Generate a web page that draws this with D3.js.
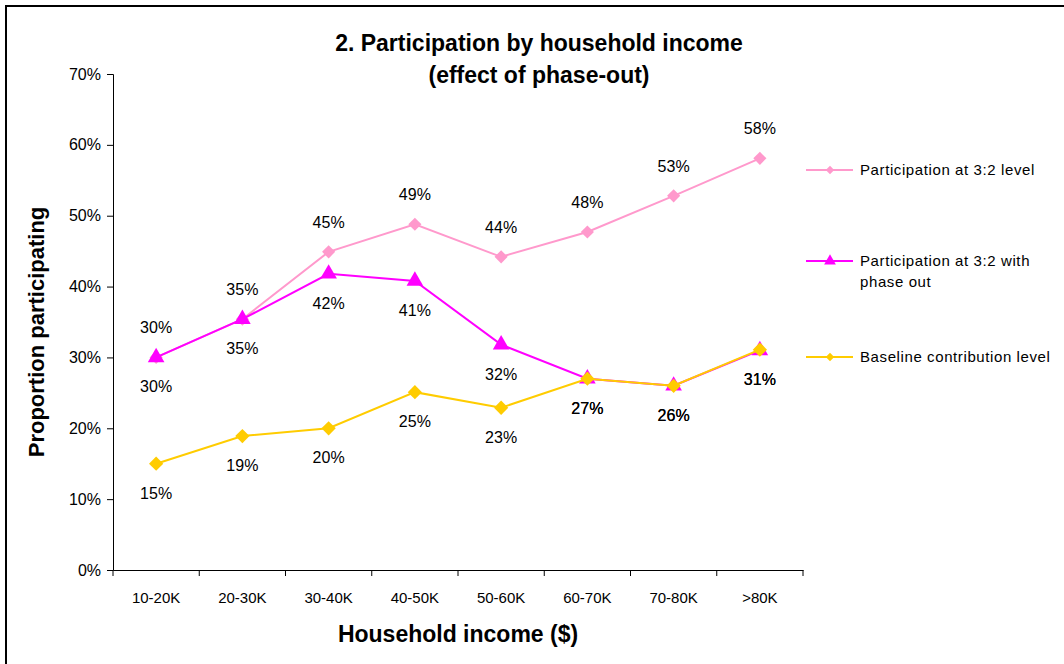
<!DOCTYPE html>
<html>
<head>
<meta charset="utf-8">
<script src="https://cdn.jsdelivr.net/npm/d3@7"></script>
<style>
  body { margin: 0; background: #fff; }
  svg text { font-family: "Liberation Sans", Arial, sans-serif; fill: #000; }
</style>
</head>
<body>
<div id="chart"></div>
<script>
const categories = ["10-20K", "20-30K", "30-40K", "40-50K", "50-60K", "60-70K", "70-80K", ">80K"];
const level32 = [0.300, 0.354, 0.449, 0.488, 0.442, 0.477, 0.528, 0.581];
const phaseOut = [0.300, 0.354, 0.418, 0.408, 0.318, 0.270, 0.260, 0.310];
const baseline = [0.150, 0.189, 0.200, 0.251, 0.229, 0.270, 0.260, 0.311];
const yTicks = [0, 0.1, 0.2, 0.3, 0.4, 0.5, 0.6, 0.7];
const seriesNames = ["Participation at 3:2 level", "Participation at 3:2 with phase out", "Baseline contribution level"];

const width = 1064, height = 664;
const margin = { left: 113, right: 261, top: 74, bottom: 94 };

const svg = d3.select("#chart").append("svg")
    .attr("width", width)
    .attr("height", height);

// outer frame (runs off the right and bottom edge)
svg.append("rect")
    .attr("x", 6).attr("y", 6)
    .attr("width", 1080).attr("height", 700)
    .attr("fill", "none")
    .attr("stroke", "#000")
    .attr("stroke-width", 2);

const x = d3.scaleBand()
    .domain(categories)
    .range([margin.left, width - margin.right]);

const y = d3.scaleLinear()
    .domain([0, 0.7])
    .range([height - margin.bottom, margin.top]);

// axes
const yAxis = svg.append("g")
    .attr("transform", `translate(${margin.left},0)`)
    .call(d3.axisLeft(y).tickValues(yTicks).tickFormat(d3.format(".0%")).tickSize(6).tickPadding(6));
yAxis.selectAll("text").style("font-size", "16px");

const xAxis = svg.append("g")
    .attr("transform", `translate(0,${height - margin.bottom})`)
    .call(d3.axisBottom(x).tickSize(0).tickPadding(22));
xAxis.selectAll("text").style("font-size", "15px");

// tick marks between categories
svg.append("g")
    .selectAll("line")
    .data(categories.concat(["end"]))
    .join("line")
    .attr("x1", (d, i) => i < categories.length ? x(d) : x.range()[1])
    .attr("x2", (d, i) => i < categories.length ? x(d) : x.range()[1])
    .attr("y1", height - margin.bottom)
    .attr("y2", height - margin.bottom + 6)
    .attr("stroke", "#000");

svg.selectAll(".domain").attr("stroke", "#000");
svg.selectAll(".tick line").attr("stroke", "#000");

const cx = d => x(d) + x.bandwidth() / 2;

const series = [
    { name: seriesNames[0], values: level32, color: "#FF99CC", marker: "diamond", size: 110, labelDy: -24 },
    { name: seriesNames[1], values: phaseOut, color: "#FF00FF", marker: "triangle", size: 120, labelDy: 35 },
    { name: seriesNames[2], values: baseline, color: "#FFCC00", marker: "diamond", size: 130, labelDy: 35 }
];

const symbolFor = s => d3.symbol()
    .type(s.marker === "triangle" ? d3.symbolTriangle : d3.symbolDiamond2)
    .size(s.size);

const line = d3.line()
    .x((d, i) => cx(categories[i]))
    .y(d => y(d));

series.forEach(s => {
    const g = svg.append("g");
    g.append("path")
        .datum(s.values)
        .attr("d", line)
        .attr("fill", "none")
        .attr("stroke", s.color)
        .attr("stroke-width", 2);
    g.selectAll("path.marker")
        .data(s.values)
        .join("path")
        .attr("class", "marker")
        .attr("transform", (d, i) => `translate(${cx(categories[i])},${y(d)})`)
        .attr("d", symbolFor(s))
        .attr("fill", s.color);
});

// data labels
series.forEach(s => {
    svg.append("g")
        .selectAll("text")
        .data(s.values)
        .join("text")
        .attr("x", (d, i) => cx(categories[i]))
        .attr("y", d => y(d) + s.labelDy)
        .attr("text-anchor", "middle")
        .style("font-size", "16px")
        .text(d => d3.format(".0%")(d));
});

// titles
const title = svg.append("text")
    .attr("x", 539).attr("y", 51)
    .attr("text-anchor", "middle")
    .style("font-size", "23px")
    .style("font-weight", "bold");
title.append("tspan").attr("x", 539).text("2. Participation by household income");
title.append("tspan").attr("x", 539).attr("dy", 32).text("(effect of phase-out)");

svg.append("text")
    .attr("x", 458).attr("y", 642)
    .attr("text-anchor", "middle")
    .style("font-size", "23px")
    .style("font-weight", "bold")
    .text("Household income ($)");

svg.append("text")
    .attr("transform", "translate(44,332) rotate(-90)")
    .attr("text-anchor", "middle")
    .style("font-size", "22px")
    .style("font-weight", "bold")
    .text("Proportion participating");

// legend
const legendY = [170, 261, 357];
const legend = svg.append("g");
series.forEach((s, i) => {
    const g = legend.append("g").attr("transform", `translate(806,${legendY[i]})`);
    g.append("line")
        .attr("x1", 0).attr("x2", 47)
        .attr("stroke", s.color).attr("stroke-width", 2);
    g.append("path")
        .attr("transform", "translate(24,0)")
        .attr("d", d3.symbol().type(s.marker === "triangle" ? d3.symbolTriangle : d3.symbolDiamond2).size(s.marker === "triangle" ? 60 : 45))
        .attr("fill", s.color);
    const t = g.append("text")
        .attr("x", 54).attr("y", 5)
        .style("font-size", "15px")
        .style("letter-spacing", "0.6px");
    if (i === 1) {
        t.append("tspan").attr("x", 54).text("Participation at 3:2 with");
        t.append("tspan").attr("x", 54).attr("dy", 21).text("phase out");
    } else {
        t.text(s.name);
    }
});
</script>
</body>
</html>
